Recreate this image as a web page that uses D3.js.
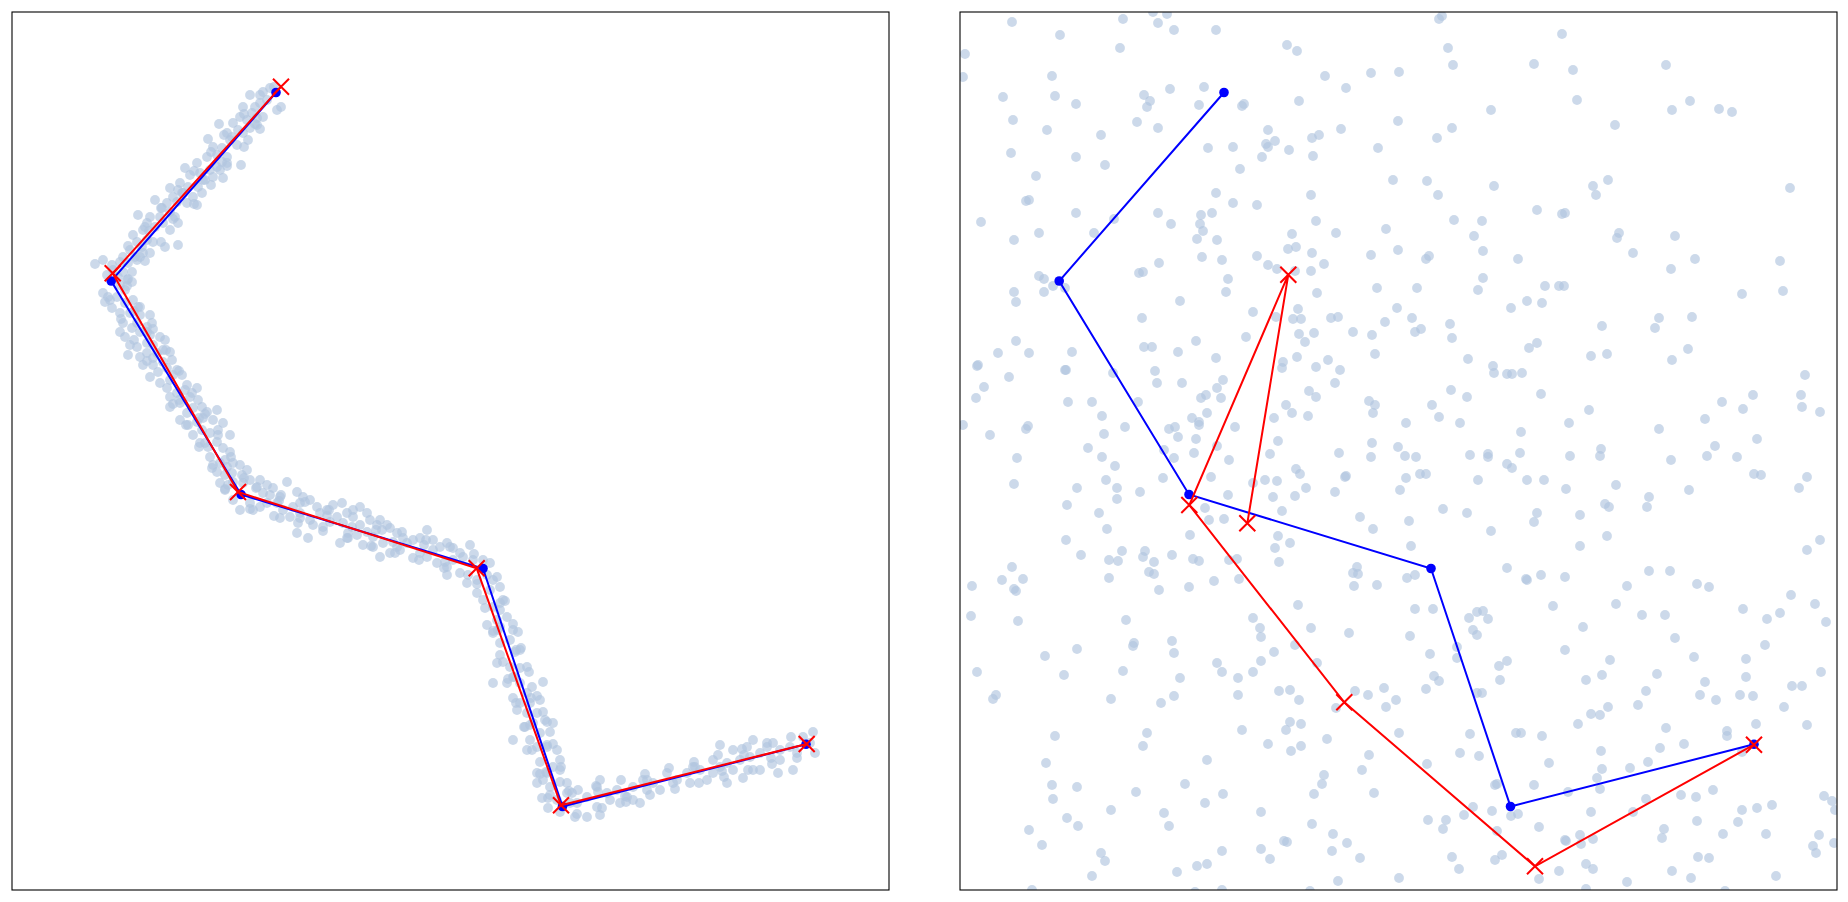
<!DOCTYPE html>
<html>
<head>
<meta charset="utf-8">
<script src="https://cdn.jsdelivr.net/npm/d3@7"></script>
<style>
  html, body { margin: 0; padding: 0; background: #fff; }
  svg { display: block; }
</style>
</head>
<body>
<svg id="chart" width="1848" height="902"></svg>
<script>
// vertices of the true polyline (drawn blue, same in both panels)
const trueVerts = [[26.4,79.75],[9.92,60.9],[22.9,39.55],[47.1,32.15],[55.05,8.35],[79.4,14.57]];

// fitted vertices (red x), low noise / high noise
const fitLow = [[26.9,80.33],[10.07,61.67],[22.6,39.8],[46.47,32.17],[54.9,8.47],[79.47,14.6]];
const fitHigh = [[28.73,36.67],[32.83,61.53],[22.93,38.5],[38.43,18.77],[57.5,2.37],[79.4,14.53]];

// samples near the polyline (left panel)
const ptsLow = [
[23.8,79.5],[25.1,79.8],[25.8,80.2],[26.2,80.3],[26.9,78.3],[25.5,79.0],[24.8,78.7],[24.3,78.3],[23.1,78.3],[24.0,77.7],[25.1,77.3],[24.5,77.2],[23.5,77.0],[22.8,77.3],[22.1,76.7],[22.6,76.0],[23.8,76.2],[24.5,76.5],[23.1,75.7],[23.6,75.0],[20.7,76.6],[21.2,75.5],[21.8,75.0],[22.5,74.5],[21.0,74.2],[19.6,75.1],[20.1,74.3],[19.5,73.3],[20.5,73.5],[21.5,73.3],[22.9,72.5],[21.5,72.7],[20.8,72.0],[20.5,72.3],[18.5,72.7],[17.3,72.2],[17.8,71.5],[18.8,71.7],[19.8,72.0],[19.1,71.0],[20.1,71.3],[21.1,71.2],[18.6,70.3],[17.6,70.3],[16.8,70.7],[15.8,70.2],[16.1,69.3],[17.1,69.7],[18.1,69.3],[19.0,69.7],[18.5,68.5],[17.5,68.7],[16.5,68.8],[15.5,68.7],[14.3,69.0],[15.0,68.2],[15.8,67.8],[16.3,67.3],[14.8,67.3],[13.8,67.3],[12.6,67.5],[13.5,66.7],[14.3,66.3],[15.1,66.7],[15.8,66.0],[13.1,66.0],[12.1,65.5],[12.5,64.8],[13.5,65.0],[14.1,64.8],[13.0,64.3],[11.8,64.0],[11.1,63.3],[12.3,63.3],[13.1,63.7],[13.8,63.7],[15.3,64.3],[16.6,64.5],[10.8,62.8],[11.6,62.7],[12.5,63.0],[9.1,63.0],[8.3,62.6],[10.1,62.0],[11.1,61.8],[12.0,61.8],[10.6,61.3],[9.5,61.5],[11.5,61.0],[12.0,60.8],[10.8,60.5],[11.3,60.0],
[26.5,78.0],[24.8,79.5],[24.8,76.1],[23.2,77.6],[24.3,76.6],[23.2,74.3],[21.5,75.7],[22.0,75.3],[21.5,72.4],[19.9,73.8],[21.0,72.8],[19.9,70.5],[18.2,71.9],[19.3,71.0],[18.2,68.6],[16.6,70.0],[17.0,69.7],[16.6,66.7],[14.9,68.2],[16.1,67.1],[14.9,64.8],[13.3,66.3],[13.7,65.9],[13.3,62.9],[11.6,64.4],[12.8,63.3],[11.6,61.1],[10.0,62.5],
[9.1,59.7],[9.3,58.8],[9.8,59.0],[10.5,59.3],[11.3,58.7],[12.1,59.0],[12.6,58.3],[10.0,58.2],[10.8,57.7],[11.8,57.7],[12.8,57.5],[13.8,57.5],[11.1,56.7],[12.5,56.7],[13.5,56.3],[14.0,56.7],[10.8,55.8],[11.3,55.3],[12.0,56.2],[12.8,55.8],[13.8,55.5],[14.8,55.3],[15.3,55.0],[11.8,54.5],[12.5,54.3],[13.5,54.7],[14.1,54.5],[11.6,53.5],[12.8,53.3],[13.5,53.7],[14.5,53.7],[15.1,54.0],[15.8,53.8],[13.1,52.5],[14.1,52.5],[15.1,52.8],[16.0,53.0],[13.8,51.3],[14.6,51.8],[15.5,52.2],[16.5,52.0],[17.0,51.5],[15.8,51.0],[17.5,50.5],[18.5,50.2],[15.5,50.2],[15.8,49.3],[16.5,49.7],[17.3,50.0],[16.8,48.7],[17.8,49.3],[18.6,49.0],[15.8,48.3],[16.8,47.0],[17.5,47.7],[18.1,48.2],[19.0,48.3],[19.5,47.8],[20.5,48.0],[17.6,46.5],[18.5,46.8],[19.1,47.2],[20.1,47.0],[21.1,46.7],[18.1,45.5],[19.0,46.0],[19.8,45.7],[20.6,46.0],[21.8,45.5],[18.8,44.7],[19.6,44.3],[20.5,44.8],[21.1,44.2],[21.8,43.8],[19.8,43.3],
[11.5,60.4],[9.6,59.3],[12.8,58.3],[10.9,57.1],[12.2,57.9],[14.1,56.1],[12.2,55.0],[13.5,55.8],[15.4,54.0],[13.5,52.9],[14.1,53.2],[16.7,51.9],[14.8,50.7],[16.1,51.5],[18.0,49.7],[16.1,48.6],[16.7,49.0],[19.3,47.6],[17.4,46.5],[18.7,47.2],[20.6,45.5],[18.7,44.3],[19.3,44.7],[21.9,43.3],[20.0,42.2],[21.3,43.0],[23.2,41.2],[21.3,40.1],
[20.1,42.5],[20.8,42.7],[21.5,42.3],[22.1,42.7],[22.8,42.5],[20.5,41.8],[21.3,41.5],[22.0,41.7],[23.0,41.5],[23.5,42.0],[20.8,40.7],[21.3,40.0],[21.6,40.5],[22.1,40.8],[23.1,40.7],[23.8,41.0],[24.8,41.0],[24.5,40.3],[25.5,40.5],[26.1,40.2],[27.5,40.8],[25.1,39.7],[25.8,39.5],[26.8,39.3],[28.5,39.8],[29.1,39.3],[22.1,39.0],[22.8,38.0],[23.8,38.7],[24.1,38.0],[24.8,38.3],[25.5,38.7],[26.5,38.7],[27.1,38.0],[28.1,38.3],[28.8,38.7],[29.8,39.0],[30.5,38.3],[26.8,37.2],[27.8,37.3],[28.8,37.7],[29.8,37.0],[30.8,37.7],[31.5,38.0],[32.1,38.5],[33.0,38.7],[28.5,35.7],[29.6,35.2],[30.1,36.5],[31.1,36.3],[31.8,36.8],[32.5,37.3],[33.5,37.7],[34.1,38.0],[34.8,38.3],[35.5,37.7],[33.1,36.7],[34.0,36.3],[34.8,36.5],[35.8,37.0],[36.8,37.0],[37.5,36.5],[32.8,34.7],[33.6,35.2],[34.5,35.5],[35.5,35.8],[36.1,35.3],[37.0,36.0],[37.8,36.2],[38.5,35.7],[39.1,35.2],[35.1,34.5],[36.1,34.3],[37.1,34.7],[38.1,34.8],[38.8,34.0],[36.8,33.3],[37.8,33.7],[39.5,34.7],[40.1,35.0],[40.8,35.2],[41.5,36.0],[42.1,35.0],[40.1,33.2],[40.8,33.7],[41.5,33.3],[42.1,34.0],[42.8,34.3],[43.5,34.7],[44.1,34.2],[44.8,33.7],[42.5,32.7],[43.5,32.3],[44.1,33.0],[45.1,33.3],[45.8,34.5],[46.1,33.0],[47.1,33.0],[47.8,32.7],[43.5,31.5],[44.8,31.7],[45.5,30.7],[46.5,31.0],[47.5,31.5],[48.1,31.0],[46.5,29.7],[47.1,29.0],[47.8,30.0],[48.8,30.3],[48.1,28.3],[48.8,28.0],[49.1,29.0],[47.5,26.5],[48.5,27.0],[49.5,27.3],[48.1,25.7],[48.8,26.3],[50.1,26.0],[50.6,25.8],[48.8,24.7],[49.8,25.0],[50.3,23.8],[50.8,24.0],
[24.4,40.2],[23.8,38.1],[26.9,39.5],[26.2,37.4],[26.7,38.9],[29.3,38.8],[28.6,36.7],[28.8,37.2],[31.7,38.0],[31.1,35.9],[31.5,37.4],[34.1,37.3],[33.5,35.2],[33.6,35.7],[36.5,36.5],[35.9,34.4],[36.4,36.0],[39.0,35.8],[38.3,33.7],[38.5,34.3],[41.4,35.0],[40.7,33.0],[41.2,34.5],[43.8,34.3],[43.2,32.2],[43.3,32.8],[46.2,33.6],[45.6,31.5],
[48.5,31.3],[46.5,30.6],[49.3,28.9],[47.3,28.2],[48.8,28.7],[50.1,26.6],[48.1,25.9],[48.6,26.0],[50.9,24.2],[48.8,23.5],[50.4,24.0],[51.7,21.8],[49.6,21.1],[50.2,21.3],[52.5,19.4],[50.4,18.7],[51.9,19.2],[53.3,17.0],[51.2,16.3],[51.8,16.5],[54.1,14.6],[52.0,14.0],[53.5,14.5],[54.9,12.3],[52.8,11.6],[53.4,11.8],[55.7,9.9],[53.6,9.2],
[49.1,22.8],[48.5,22.7],[49.8,22.3],[50.8,22.2],[51.5,22.3],[50.1,21.3],[49.5,20.7],[48.1,20.7],[53.1,20.8],[50.8,20.7],[52.0,20.3],[51.5,19.7],[50.1,19.2],[50.8,18.7],[51.8,18.7],[52.8,19.0],[50.5,18.0],[51.5,17.7],[52.5,17.7],[53.1,17.8],[51.3,16.3],[52.1,16.7],[53.5,16.8],[54.1,16.7],[50.1,15.0],[51.8,15.0],[52.8,15.7],[53.8,15.8],[51.5,14.0],[52.5,14.3],[53.5,14.3],[54.5,14.0],[54.8,13.0],[54.1,12.3],[52.8,12.8],[52.5,11.7],[53.5,11.7],[54.8,12.0],[53.1,11.0],[52.5,10.7],[53.8,10.3],[54.8,10.8],[55.5,10.7],[53.0,9.2],[53.8,9.5],[54.5,9.0],[55.5,9.7],[53.6,8.2],[54.8,7.8],[55.8,8.7],[56.6,10.0],[56.5,8.7],[57.5,9.3],[58.5,10.3],[58.8,11.0],[59.5,9.7],[60.5,10.0],[61.5,9.3],[62.1,9.0],[62.8,8.7],[63.5,10.0],[56.3,7.3],[57.5,7.3],[58.8,7.5],[58.5,8.3],[59.8,9.0],[60.8,8.7],[62.1,10.3],[63.1,11.0],[64.1,10.7],[64.8,10.0],[65.5,11.7],[66.5,11.0],[67.5,11.7],[68.1,12.3],[67.8,10.7],[69.5,11.0],[70.1,11.7],[70.8,12.3],[71.5,12.7],[68.8,12.0],[70.1,13.0],[72.1,12.0],[72.8,13.0],[73.1,11.2],[73.8,13.3],[74.8,13.7],[75.5,14.3],[76.1,14.7],[76.8,14.0],[77.8,14.3],[78.5,13.7],[76.8,13.0],[78.1,12.0],[79.1,15.3],[80.1,15.8],[80.3,13.7],[79.8,14.7],[76.6,11.7],[74.1,12.0],[71.5,10.7],[70.8,14.5],[72.1,14.0],[73.5,14.3],[74.1,15.0],[74.8,12.0],
[56.0,9.7],[56.5,7.6],[58.4,10.4],[59.0,8.2],[58.6,9.8],[60.9,11.0],[61.4,8.8],[61.3,9.4],[63.3,11.6],[63.8,9.5],[63.5,11.0],[65.7,12.2],[66.3,10.1],[66.1,10.7],[68.2,12.8],[68.7,10.7],[68.3,12.3],[70.6,13.5],[71.2,11.3],[71.0,11.9],[73.0,14.1],[73.6,12.0],[73.2,13.5],[75.5,14.7],[76.0,12.6],[75.9,13.2],[77.9,15.3],[78.5,13.2]
];

// samples spread over the whole box (right panel)
const ptsHigh = [
[5.2,86.8],[16.3,87.1],[19.3,87.8],[20.7,87.6],[19.8,86.7],[21.4,86.0],[25.6,86.0],[10.0,85.5],[0.5,83.6],[16.0,84.2],[0.3,81.3],[9.2,81.4],[4.3,79.3],[9.5,79.4],[11.6,78.6],[18.4,79.5],[19.0,78.9],[18.7,78.3],[21.0,80.1],[24.4,80.3],[23.9,78.5],[28.2,78.4],[28.4,78.6],[5.3,77.0],[8.7,76.0],[14.1,75.5],[17.7,76.8],[19.8,76.2],[24.8,74.2],[27.3,74.3],[5.1,73.7],[11.6,73.3],[14.5,72.5],[28.0,72.1],[7.6,71.4],[6.6,68.9],[6.9,69.0],[25.6,69.7],[27.3,68.7],[2.1,66.8],[11.6,67.7],[15.4,67.1],[19.8,67.7],[21.1,66.6],[24.1,67.5],[25.2,67.7],[24.0,66.6],[24.3,65.9],[23.7,65.1],[25.7,65.0],[7.9,65.7],[5.4,65.0],[13.4,65.7],[19.9,62.7],[24.2,63.3],[26.2,63.0],[7.9,61.4],[8.4,61.1],[17.9,61.7],[18.3,61.8],[26.8,61.1],[5.4,59.8],[8.4,59.8],[9.3,60.4],[10.5,60.2],[5.6,58.8],[22.0,58.9],[26.6,59.8],
[47.9,87.1],[48.2,87.4],[32.7,84.5],[33.7,83.9],[48.8,84.2],[49.3,82.5],[57.4,82.6],[36.5,81.4],[41.1,81.7],[43.9,81.8],[38.6,80.2],[33.9,78.9],[53.1,78.0],[43.8,76.9],[30.8,76.0],[31.5,74.9],[30.6,74.6],[30.8,74.3],[30.2,73.3],[32.9,74.0],[35.2,75.2],[35.9,75.5],[38.1,76.1],[35.3,73.4],[41.8,74.2],[47.7,75.2],[49.2,76.2],[43.3,71.0],[46.7,70.9],[47.8,69.5],[53.4,70.4],[29.7,68.5],[35.1,69.5],[57.7,68.0],[35.6,66.9],[33.2,65.6],[37.6,65.7],[42.6,66.1],[49.4,67.0],[52.2,66.9],[51.4,65.4],[32.8,64.1],[33.6,64.3],[35.2,63.7],[29.7,63.4],[41.1,63.5],[43.8,64.0],[46.6,63.1],[46.9,63.4],[52.3,63.9],[55.8,63.1],[30.8,62.5],[31.7,62.1],[33.5,61.9],[35.1,61.9],[36.4,62.6],[52.3,61.2],[35.7,59.7],[41.7,60.2],[45.7,60.2],[51.8,60.0],[58.5,60.4],[56.7,58.9],[58.2,58.7],
[60.2,85.6],[61.3,82.0],[70.6,82.5],[61.7,79.0],[71.2,78.0],[73.0,78.9],[75.9,78.1],[77.2,77.8],[65.5,76.5],[64.8,71.0],[63.3,70.4],[63.6,69.5],[83.0,70.2],[60.2,67.6],[60.5,67.7],[65.9,65.7],[65.7,65.2],[71.5,65.4],[67.3,63.7],[73.5,63.1],[71.1,62.1],[82.0,62.9],[59.9,60.4],[60.4,60.4],[78.2,59.6],[82.3,59.9],
[18.2,57.2],[29.3,57.8],[5.6,54.9],[3.8,53.7],[6.9,53.7],[11.2,53.8],[18.4,54.3],[19.2,54.3],[21.8,53.8],[23.6,54.9],[28.6,55.3],[25.6,53.2],[1.7,52.4],[1.8,52.5],[10.5,52.0],[10.6,52.0],[4.9,51.3],[15.3,51.7],[19.5,51.9],[19.7,50.7],[22.2,50.7],[26.3,51.0],[25.7,50.2],[2.4,50.3],[1.6,49.2],[10.8,48.8],[13.2,48.8],[17.8,48.8],[24.1,49.2],[24.6,49.5],[26.1,49.2],[14.2,47.4],[24.7,47.7],[23.2,47.2],[23.9,46.8],[23.9,46.5],[0.3,46.5],[3.0,45.5],[6.6,46.1],[6.8,46.4],[14.4,45.6],[16.5,46.3],[20.9,46.1],[21.5,46.3],[21.8,45.3],[23.6,45.1],[27.5,46.3],[12.8,44.2],[20.4,44.0],[14.2,43.3],[21.4,43.2],[23.4,43.7],[25.7,44.4],[26.9,43.0],[5.7,43.2],[15.5,42.4],[25.1,41.3],[29.3,40.7],[5.4,40.6],[11.7,40.2],[14.6,41.0],[15.7,40.2],[18.0,39.8],[20.3,41.2],[15.7,39.1],[26.8,39.5],[10.7,38.5],[13.9,37.7],[24.5,38.2],[24.9,37.0],[26.4,37.1],[14.7,36.1],[23.0,35.5],[10.6,35.0],[12.1,33.5],[16.2,33.9],[18.5,33.9],[18.3,33.3],[14.9,33.0],[15.8,32.9],[19.4,32.8],[21.2,33.5],[23.3,33.1],[23.9,32.9],[26.9,33.0],[27.7,33.1],[5.2,32.3],[4.2,31.0],[6.3,31.1],[1.2,30.4],[5.4,30.1],[5.6,29.9],[14.9,31.2],[18.9,31.8],[19.4,31.6],[19.9,30.0],[22.9,30.3],[25.4,30.9],[27.9,31.1],
[33.8,58.1],[43.7,58.2],[55.1,58.2],[31.6,57.3],[33.3,57.1],[34.1,57.1],[37.1,57.2],[37.8,57.3],[42.5,56.8],[45.2,57.2],[45.5,55.8],[46.1,56.1],[49.0,56.6],[49.2,55.2],[39.3,55.8],[41.2,55.5],[33.9,55.6],[35.4,55.7],[34.5,54.8],[56.9,54.2],[57.7,54.7],[33.7,53.3],[41.5,53.6],[50.8,53.1],[36.8,53.0],[35.6,52.3],[38.0,52.0],[32.3,52.8],[32.2,52.2],[53.3,52.4],[53.4,51.7],[54.7,51.6],[55.2,51.6],[56.2,51.7],[37.5,50.7],[34.9,49.9],[35.6,49.3],[49.1,50.0],[50.7,49.3],[58.1,49.6],[32.6,48.5],[33.2,47.7],[34.8,47.4],[31.4,47.2],[40.9,48.9],[41.5,48.5],[41.3,47.7],[47.2,48.5],[47.9,47.3],[50.0,46.7],[44.6,46.7],[56.1,45.8],[31.8,44.9],[31.0,43.6],[37.9,43.7],[41.2,44.7],[41.1,43.3],[43.8,44.3],[44.5,43.4],[45.6,43.3],[51.0,43.5],[52.8,43.6],[52.8,43.3],[56.0,43.7],[54.7,42.6],[55.2,42.2],[33.6,42.1],[34.0,41.6],[38.6,41.4],[38.5,41.3],[30.5,41.0],[31.7,40.9],[34.6,40.2],[33.5,39.4],[31.3,39.3],[37.5,39.8],[44.0,40.0],[44.6,41.2],[46.0,41.6],[46.6,41.6],[51.8,41.0],[56.7,41.0],[58.4,41.0],[48.3,38.1],[50.7,37.7],[57.7,37.7],[57.4,36.8],[32.2,37.9],[40.0,37.3],[44.9,36.9],[41.3,36.1],[53.1,35.9],[31.8,35.4],[33.0,34.7],[31.5,34.2],[45.1,34.4],[31.9,32.8],[54.7,32.2],[39.7,32.3],[39.3,31.7],[39.8,31.6],[39.4,30.4],[41.7,30.5],[44.7,31.2],[45.5,31.5],[56.6,31.1],[56.7,31.0],[58.1,31.5],
[64.2,56.4],[69.9,57.2],[69.5,56.2],[73.2,57.3],[63.1,53.4],[64.7,53.6],[71.2,53.0],[72.8,54.1],[84.5,51.5],[79.3,49.5],[76.2,48.8],[78.3,48.1],[84.1,49.5],[84.2,48.3],[86.0,47.8],[62.9,48.0],[60.9,46.7],[74.5,47.1],[69.9,46.1],[79.7,45.1],[75.5,44.4],[64.1,44.1],[64.0,43.4],[61.0,43.4],[74.7,43.4],[77.7,43.3],[71.1,43.0],[79.4,41.6],[80.1,41.5],[84.7,41.3],[83.9,40.2],[60.6,40.1],[65.6,40.5],[72.9,40.0],[68.9,39.3],[68.7,38.3],[64.5,38.6],[64.9,38.3],[62.0,37.5],[64.7,35.4],[62.0,34.4],[86.0,35.0],[84.7,34.0],[60.5,31.3],[68.9,31.9],[71.0,31.9],[66.7,30.4],[73.7,30.6],[74.9,30.3],[83.1,29.5],
[1.1,27.4],[5.8,26.9],[16.6,27.0],[29.3,27.2],[17.4,24.7],[17.3,24.4],[21.2,24.9],[21.4,23.7],[11.7,24.1],[8.5,23.4],[1.7,21.8],[10.4,21.5],[16.3,21.9],[25.7,22.7],[26.2,21.8],[22.0,21.2],[27.8,21.2],[29.3,21.8],[3.6,19.5],[3.3,19.1],[15.1,19.1],[20.1,18.7],[21.4,19.4],[27.8,19.5],[9.5,15.4],[18.7,15.7],[18.3,14.4],[28.2,16.0],[8.6,12.7],[24.7,13.0],[9.2,10.5],[11.7,10.3],[9.3,9.1],[17.6,9.8],[22.5,10.6],[26.3,9.6],[24.5,8.7],[15.1,8.0],[20.4,7.7],[20.9,6.4],[10.7,7.2],[11.8,6.4],[6.9,6.0],[8.2,4.5],[14.1,3.7],[14.5,2.9],[13.2,1.4],[21.7,1.8],[23.7,2.4],[24.7,2.6],[26.2,3.9],[7.2,0.0],[23.5,-0.2],[26.2,0.0],
[33.8,28.5],[45.5,28.1],[47.3,28.1],[50.9,27.2],[51.7,27.8],[52.3,27.9],[52.8,27.1],[30.0,26.2],[30.1,25.3],[35.1,26.2],[38.9,25.7],[45.0,25.4],[51.3,26.0],[51.7,25.5],[31.4,23.8],[33.5,24.5],[47.0,23.6],[49.7,24.3],[49.7,23.2],[30.1,22.9],[35.7,22.7],[53.9,22.4],[54.7,22.9],[47.4,21.4],[47.9,20.9],[54.0,21.0],[31.9,19.9],[33.0,20.0],[33.9,19.0],[39.5,19.9],[40.8,19.5],[42.4,20.2],[46.6,20.1],[43.6,19.0],[42.6,18.3],[37.6,18.2],[51.7,19.7],[52.2,19.7],[33.0,16.8],[32.6,16.0],[34.1,16.6],[30.8,14.6],[33.1,13.9],[34.1,14.4],[36.7,15.1],[43.9,15.7],[51.0,15.6],[55.6,15.7],[56.1,15.7],[58.2,15.4],[40.9,13.5],[50.0,13.7],[51.9,13.4],[40.2,12.0],[46.7,12.6],[58.9,12.7],[36.4,11.5],[36.2,10.6],[35.4,9.6],[41.4,9.7],[53.5,10.5],[53.7,10.6],[57.4,10.5],[30.1,7.8],[51.3,8.3],[53.2,7.9],[50.4,7.5],[55.1,7.4],[55.8,7.6],[46.8,7.0],[48.6,7.0],[48.3,6.1],[57.9,6.3],[35.2,6.6],[32.4,4.9],[32.7,4.8],[37.3,5.6],[38.7,4.7],[37.2,3.9],[30.1,4.1],[31.0,3.1],[40.0,3.2],[53.7,5.9],[49.2,3.3],[49.9,2.1],[53.5,3.0],[54.2,3.5],[57.9,1.1],[43.9,1.2],[37.8,0.9],[35.0,-0.1],
[59.3,28.4],[65.6,28.6],[68.2,27.5],[70.5,27.5],[78.3,28.1],[80.7,27.1],[82.0,27.7],[85.5,28.6],[86.6,26.8],[62.3,26.3],[71.5,25.2],[60.5,24.0],[65.0,23.0],[73.4,23.3],[78.6,23.1],[80.5,24.5],[62.6,21.0],[64.2,21.5],[69.7,21.6],[74.5,20.8],[78.6,21.3],[86.1,21.8],[83.2,20.4],[84.2,20.4],[68.6,19.9],[74.0,19.5],[75.6,19.0],[78.0,19.5],[79.3,19.4],[64.8,18.3],[63.1,17.6],[64.0,17.5],[67.8,18.5],[82.4,18.3],[61.8,16.6],[70.6,16.2],[76.7,15.9],[76.7,15.4],[79.6,16.6],[84.7,16.5],[64.1,13.9],[70.0,14.2],[72.4,14.6],[78.2,13.8],[64.2,12.1],[67.0,12.2],[68.8,12.8],[63.7,11.2],[64.0,10.1],[60.8,9.8],[68.6,9.1],[72.1,9.5],[73.6,9.3],[75.3,10.0],[63.1,7.8],[67.3,7.8],[78.2,8.0],[79.7,8.2],[81.2,8.5],[86.4,9.4],[87.2,8.9],[87.5,8.0],[73.7,6.9],[77.8,6.8],[70.4,6.1],[70.2,5.2],[62.0,5.5],[60.5,5.0],[60.6,4.9],[62.1,4.6],[63.3,5.1],[76.3,5.6],[80.6,5.6],[85.9,5.5],[85.3,4.4],[85.6,3.7],[87.4,4.7],[73.8,3.3],[74.9,3.2],[62.6,2.6],[63.3,2.1],[59.9,1.9],[71.2,1.9],[73.1,1.2],[66.7,0.8],[81.6,1.4],[62.6,0.1],[76.5,-0.1]
];

const svg = d3.select("#chart");
const W = 877, H = 878, panelTop = 12;

const x = d3.scaleLinear().domain([0, 87.7]).range([0, W]);
const y = d3.scaleLinear().domain([0, 87.8]).range([H, 0]);
const line = d3.line().x(d => x(d[0])).y(d => y(d[1]));

const panels = [
  {left: 12, pts: ptsLow, fit: fitLow},
  {left: 960, pts: ptsHigh, fit: fitHigh}
];

panels.forEach(function(p, i) {
  const g = svg.append("g").attr("transform", "translate(" + p.left + "," + panelTop + ")");

  svg.append("clipPath").attr("id", "clip" + i)
    .append("rect").attr("width", W).attr("height", H);

  const inner = g.append("g").attr("clip-path", "url(#clip" + i + ")");

  // noisy samples
  inner.selectAll(".pt")
    .data(p.pts)
    .enter().append("circle")
    .attr("class", "pt")
    .attr("cx", d => x(d[0]))
    .attr("cy", d => y(d[1]))
    .attr("r", 4.9)
    .style("fill", "#b0c4de")
    .style("fill-opacity", 0.65);

  // true polyline
  inner.append("path")
    .datum(trueVerts)
    .attr("d", line)
    .style("fill", "none")
    .style("stroke", "blue")
    .style("stroke-width", 2);

  inner.selectAll(".tv")
    .data(trueVerts)
    .enter().append("circle")
    .attr("class", "tv")
    .attr("cx", d => x(d[0]))
    .attr("cy", d => y(d[1]))
    .attr("r", 4.8)
    .style("fill", "blue");

  // fitted polyline
  inner.append("path")
    .datum(p.fit)
    .attr("d", line)
    .style("fill", "none")
    .style("stroke", "red")
    .style("stroke-width", 2);

  const s = 8;
  inner.selectAll(".fx")
    .data(p.fit)
    .enter().append("path")
    .attr("class", "fx")
    .attr("transform", d => "translate(" + x(d[0]) + "," + y(d[1]) + ")")
    .attr("d", "M" + (-s) + "," + (-s) + "L" + s + "," + s + "M" + (-s) + "," + s + "L" + s + "," + (-s))
    .style("stroke", "red")
    .style("stroke-width", 2)
    .style("fill", "none");

  // frame
  g.append("rect")
    .attr("width", W)
    .attr("height", H)
    .style("fill", "none")
    .style("stroke", "#000")
    .style("stroke-width", 1.1);
});
</script>
</body>
</html>
